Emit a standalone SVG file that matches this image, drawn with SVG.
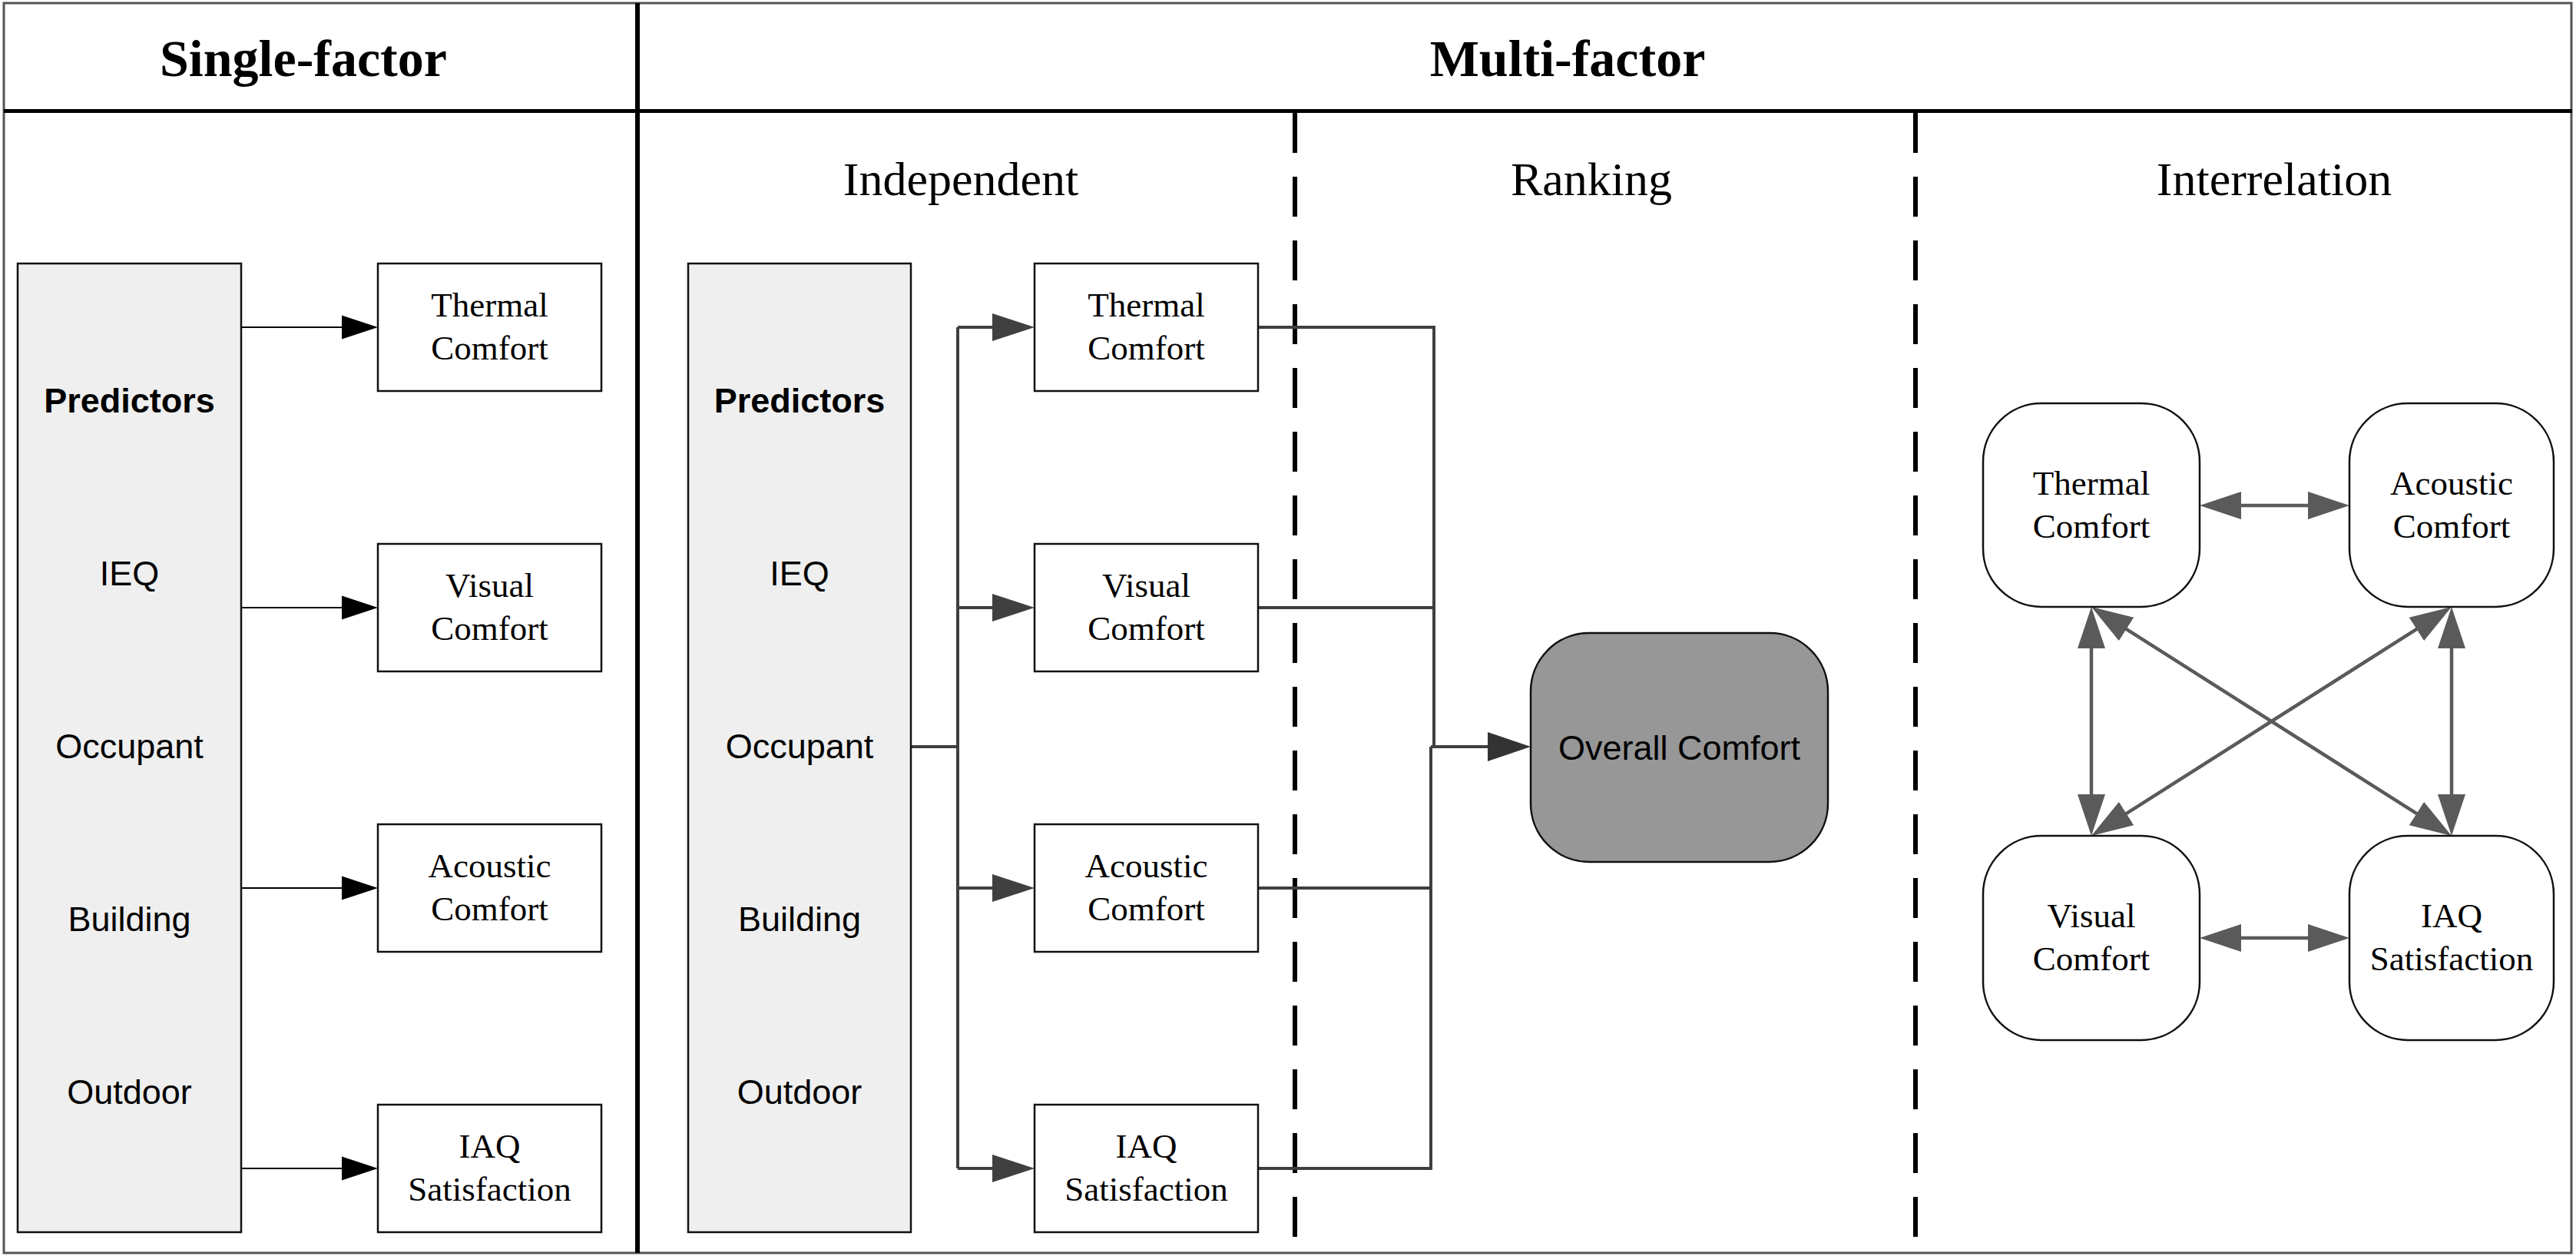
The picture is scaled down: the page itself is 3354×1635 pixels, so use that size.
<svg xmlns="http://www.w3.org/2000/svg" width="3354" height="1635" viewBox="0 0 3354 1635">
<defs>
<style>
.title{font-family:"Liberation Serif","Times New Roman",serif;font-weight:bold;font-size:68px;text-anchor:middle;fill:#000}
.sub{font-family:"Liberation Serif","Times New Roman",serif;font-size:62px;text-anchor:middle;fill:#000}
.lbl{font-family:"Liberation Serif","Times New Roman",serif;font-size:45px;text-anchor:middle;fill:#000}
.sans{font-family:"Liberation Sans",Arial,sans-serif;font-size:45px;text-anchor:middle;fill:#000}
.bold{font-weight:bold}
.box{fill:#fff;stroke:#111;stroke-width:2.5}
.pred{fill:#efefef;stroke:#111;stroke-width:2.5}
.overall{fill:#979797;stroke:#111;stroke-width:2.5}
.c1{fill:none;stroke:#000;stroke-width:2}
.c2{fill:none;stroke:#3f3f3f;stroke-width:4}
.c3{fill:none;stroke:#5a5a5a;stroke-width:4.5}
.dash{stroke:#000;stroke-width:6;stroke-dasharray:52 31}
.frame{fill:none;stroke:#555;stroke-width:3}
</style>
<marker id="a1" markerUnits="userSpaceOnUse" markerWidth="48" markerHeight="32" refX="39" refY="16" orient="auto"><path d="M0,0.5 L47,16 L0,31.5 z" fill="#000"/></marker>
<marker id="a2" markerUnits="userSpaceOnUse" markerWidth="56" markerHeight="36" refX="47" refY="18" orient="auto"><path d="M0,0 L55,18 L0,36 z" fill="#404040"/></marker>
<marker id="a3" markerUnits="userSpaceOnUse" markerWidth="57" markerHeight="38" refX="48" refY="19" orient="auto"><path d="M0,0 L56,19 L0,38 z" fill="#333"/></marker>
<marker id="a4" markerUnits="userSpaceOnUse" markerWidth="55" markerHeight="36" refX="46" refY="18" orient="auto-start-reverse"><path d="M0,0 L54,18 L0,36 z" fill="#5a5a5a"/></marker>
</defs>

<g id="frame">
<rect class="frame" x="5" y="4" width="3343" height="1627"/>
<line x1="5" y1="144.5" x2="3349" y2="144.5" stroke="#000" stroke-width="5"/>
<line x1="830" y1="4" x2="830" y2="1631" stroke="#000" stroke-width="6"/>
<line class="dash" x1="1686" y1="147" x2="1686" y2="1630"/>
<line class="dash" x1="2494" y1="147" x2="2494" y2="1630"/>
<text class="title" x="395" y="99">Single-factor</text>
<text class="title" x="2041" y="99">Multi-factor</text>
<text class="sub" x="1251" y="254">Independent</text>
<text class="sub" x="2072" y="254">Ranking</text>
<text class="sub" x="2961" y="254">Interrelation</text>
</g>

<g id="connectors">
<path class="c1" d="M314,426 H484" marker-end="url(#a1)"/>
<path class="c1" d="M314,791 H484" marker-end="url(#a1)"/>
<path class="c1" d="M314,1156 H484" marker-end="url(#a1)"/>
<path class="c1" d="M314,1521 H484" marker-end="url(#a1)"/>

<path class="c2" d="M1186,972 H1247"/>
<path class="c2" d="M1247,426 V1521"/>
<path class="c2" d="M1247,426 H1339" marker-end="url(#a2)"/>
<path class="c2" d="M1247,791 H1339" marker-end="url(#a2)"/>
<path class="c2" d="M1247,1156 H1339" marker-end="url(#a2)"/>
<path class="c2" d="M1247,1521 H1339" marker-end="url(#a2)"/>

<path class="c2" d="M1638,426 H1867 V972"/>
<path class="c2" d="M1638,791 H1867"/>
<path class="c2" d="M1638,1521 H1863 V972"/>
<path class="c2" d="M1638,1156 H1863"/>
<path class="c2" d="M1863,972 H1985" marker-end="url(#a3)"/>

<path class="c3" d="M2872,658 H3051" marker-start="url(#a4)" marker-end="url(#a4)"/>
<path class="c3" d="M2872,1221 H3051" marker-start="url(#a4)" marker-end="url(#a4)"/>
<path class="c3" d="M2723,798 V1080" marker-start="url(#a4)" marker-end="url(#a4)"/>
<path class="c3" d="M3192,798 V1080" marker-start="url(#a4)" marker-end="url(#a4)"/>
<path class="c3" d="M2729.75,794.29 L3185.25,1083.71" marker-start="url(#a4)" marker-end="url(#a4)"/>
<path class="c3" d="M3185.25,794.29 L2729.75,1083.71" marker-start="url(#a4)" marker-end="url(#a4)"/>
</g>

<g id="sf-predictors">
<rect class="pred" x="23" y="343" width="291" height="1261"/>
<text class="sans bold" x="168.5" y="537">Predictors</text>
<text class="sans" x="168.5" y="762">IEQ</text>
<text class="sans" x="168.5" y="987">Occupant</text>
<text class="sans" x="168.5" y="1212">Building</text>
<text class="sans" x="168.5" y="1437">Outdoor</text>
</g>
<g id="sf-thermal"><rect class="box" x="492" y="343" width="291" height="166"/><text class="lbl" x="637.5" y="412">Thermal</text><text class="lbl" x="637.5" y="468">Comfort</text></g>
<g id="sf-visual"><rect class="box" x="492" y="708" width="291" height="166"/><text class="lbl" x="637.5" y="777">Visual</text><text class="lbl" x="637.5" y="833">Comfort</text></g>
<g id="sf-acoustic"><rect class="box" x="492" y="1073" width="291" height="166"/><text class="lbl" x="637.5" y="1142">Acoustic</text><text class="lbl" x="637.5" y="1198">Comfort</text></g>
<g id="sf-iaq"><rect class="box" x="492" y="1438" width="291" height="166"/><text class="lbl" x="637.5" y="1507">IAQ</text><text class="lbl" x="637.5" y="1563">Satisfaction</text></g>

<g id="mf-predictors">
<rect class="pred" x="896" y="343" width="290" height="1261"/>
<text class="sans bold" x="1041" y="537">Predictors</text>
<text class="sans" x="1041" y="762">IEQ</text>
<text class="sans" x="1041" y="987">Occupant</text>
<text class="sans" x="1041" y="1212">Building</text>
<text class="sans" x="1041" y="1437">Outdoor</text>
</g>
<g id="mf-thermal"><rect class="box" x="1347" y="343" width="291" height="166"/><text class="lbl" x="1492.5" y="412">Thermal</text><text class="lbl" x="1492.5" y="468">Comfort</text></g>
<g id="mf-visual"><rect class="box" x="1347" y="708" width="291" height="166"/><text class="lbl" x="1492.5" y="777">Visual</text><text class="lbl" x="1492.5" y="833">Comfort</text></g>
<g id="mf-acoustic"><rect class="box" x="1347" y="1073" width="291" height="166"/><text class="lbl" x="1492.5" y="1142">Acoustic</text><text class="lbl" x="1492.5" y="1198">Comfort</text></g>
<g id="mf-iaq"><rect class="box" x="1347" y="1438" width="291" height="166"/><text class="lbl" x="1492.5" y="1507">IAQ</text><text class="lbl" x="1492.5" y="1563">Satisfaction</text></g>

<g id="overall"><rect class="overall" x="1993" y="824" width="387" height="298" rx="76" ry="76"/><text class="sans" x="2186.5" y="989">Overall Comfort</text></g>

<g id="ir-thermal"><rect class="box" x="2582" y="525" width="282" height="265" rx="76" ry="76"/><text class="lbl" x="2723" y="644">Thermal</text><text class="lbl" x="2723" y="700">Comfort</text></g>
<g id="ir-acoustic"><rect class="box" x="3059" y="525" width="266" height="265" rx="76" ry="76"/><text class="lbl" x="3192" y="644">Acoustic</text><text class="lbl" x="3192" y="700">Comfort</text></g>
<g id="ir-visual"><rect class="box" x="2582" y="1088" width="282" height="266" rx="76" ry="76"/><text class="lbl" x="2723" y="1207">Visual</text><text class="lbl" x="2723" y="1263">Comfort</text></g>
<g id="ir-iaq"><rect class="box" x="3059" y="1088" width="266" height="266" rx="76" ry="76"/><text class="lbl" x="3192" y="1207">IAQ</text><text class="lbl" x="3192" y="1263">Satisfaction</text></g>
</svg>
